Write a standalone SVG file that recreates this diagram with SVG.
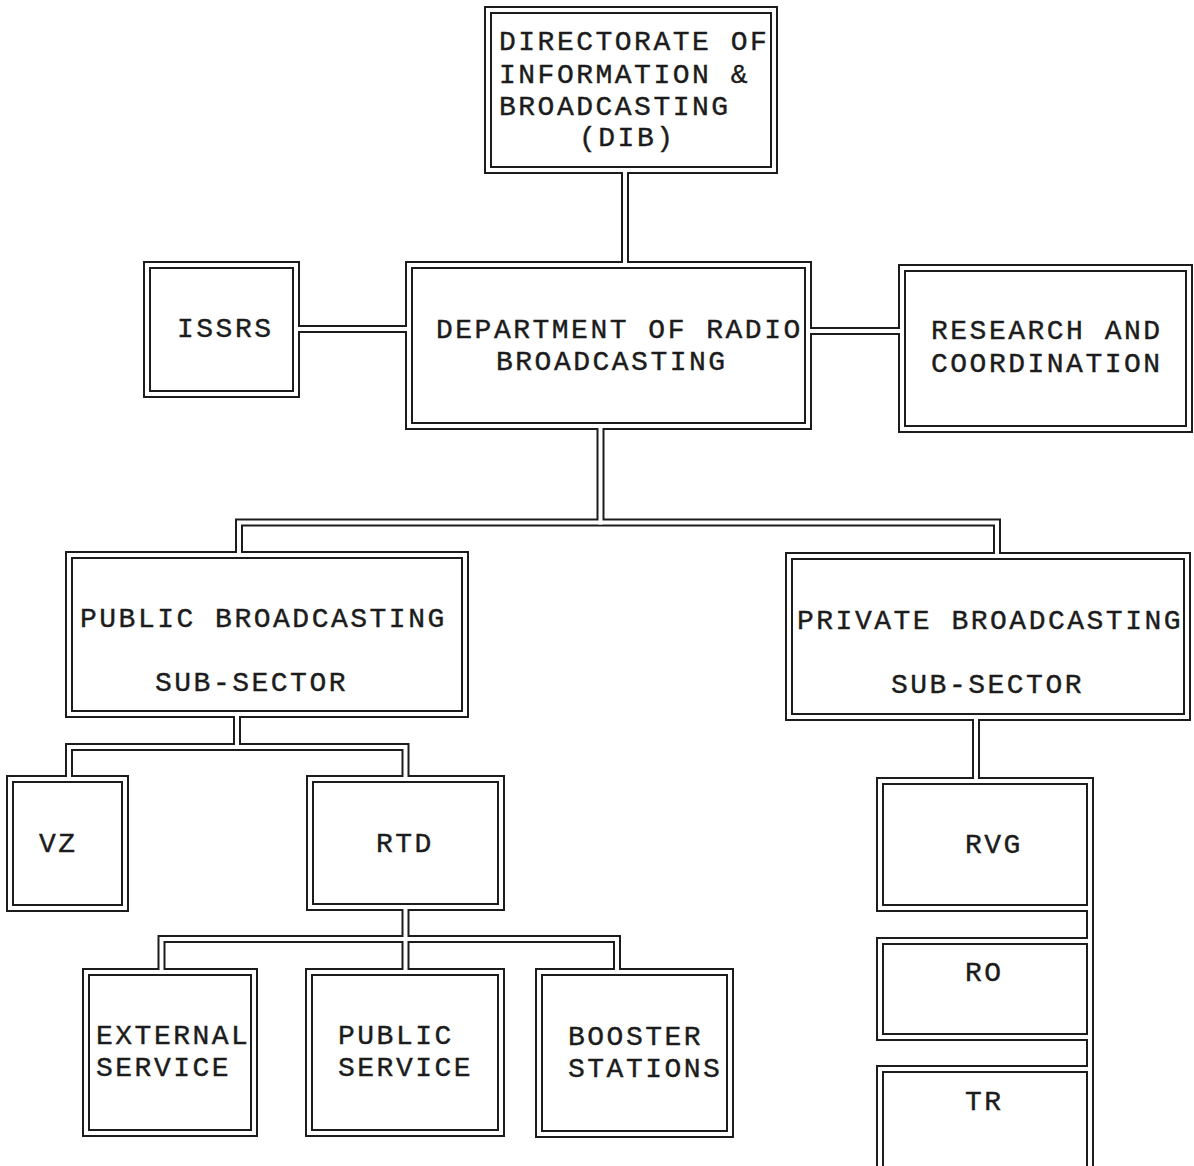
<svg xmlns="http://www.w3.org/2000/svg" xmlns:xlink="http://www.w3.org/1999/xlink" width="1194" height="1166" viewBox="0 0 1194 1166">
  <style>
    .outer { fill: #fff; stroke: #1c1c1c; stroke-width: 2; }
    .inner { fill: none; stroke: #1c1c1c; stroke-width: 2; }
    .label { font-family: "Liberation Mono", "DejaVu Sans Mono", monospace; font-size: 28px; letter-spacing: 2.5px; fill: #1c1c1c; stroke: #1c1c1c; stroke-width: 0.4px; }
    .edge { fill: none; stroke: #1c1c1c; stroke-width: 8; stroke-linejoin: miter; stroke-linecap: butt; }
    .core { fill: none; stroke: #fff; stroke-width: 4; stroke-linejoin: miter; stroke-linecap: square; }
  </style>
  <defs>
    <!-- double-line connector routes (centre lines) -->
    <path id="c-dib" d="M625,173 V262"/>
    <path id="c-issrs" d="M299,329 H406"/>
    <path id="c-research" d="M811,331 H899"/>
    <path id="c-dept-stem" d="M600.5,429 V522.5"/>
    <path id="c-dept-bus" d="M239,552 V522.5 H997 V553"/>
    <path id="c-pub-stem" d="M237,717 V747"/>
    <path id="c-pub-bus" d="M69,776 V747 H405.5 V776"/>
    <path id="c-rtd-stem" d="M405.5,910 V969"/>
    <path id="c-rtd-bus" d="M161.5,969 V939 H617 V969"/>
    <path id="c-priv" d="M976,720 V778"/>
    <path id="c-rvg-ro" d="M1090,911 V938"/>
    <path id="c-ro-tr" d="M1090,1040 V1066"/>
  </defs>

  <rect width="1194" height="1166" fill="#fff"/>

  <g id="dib">
    <rect class="outer" x="485" y="7" width="292" height="166"/>
    <rect class="inner" x="491" y="13" width="280" height="154"/>
    <text class="label" x="499" y="50">DIRECTORATE OF</text>
    <text class="label" x="499" y="83">INFORMATION &amp;</text>
    <text class="label" x="499" y="115">BROADCASTING</text>
    <text class="label" x="579" y="146">(DIB)</text>
  </g>

  <g id="issrs">
    <rect class="outer" x="144" y="262" width="155" height="135"/>
    <rect class="inner" x="150" y="268" width="143" height="123"/>
    <text class="label" x="177" y="337">ISSRS</text>
  </g>

  <g id="dept">
    <rect class="outer" x="406" y="262" width="405" height="167"/>
    <rect class="inner" x="412" y="268" width="393" height="155"/>
    <text class="label" x="436" y="338">DEPARTMENT OF RADIO</text>
    <text class="label" x="496" y="370">BROADCASTING</text>
  </g>

  <g id="research">
    <rect class="outer" x="899" y="265" width="293" height="167"/>
    <rect class="inner" x="905" y="271" width="281" height="155"/>
    <text class="label" x="931" y="339">RESEARCH AND</text>
    <text class="label" x="931" y="372">COORDINATION</text>
  </g>

  <g id="public">
    <rect class="outer" x="66" y="552" width="402" height="165"/>
    <rect class="inner" x="72" y="558" width="390" height="153"/>
    <text class="label" x="80" y="627">PUBLIC BROADCASTING</text>
    <text class="label" x="155" y="691">SUB-SECTOR</text>
  </g>

  <g id="private">
    <rect class="outer" x="786" y="553" width="404" height="167"/>
    <rect class="inner" x="792" y="559" width="392" height="155"/>
    <text class="label" x="797" y="629">PRIVATE BROADCASTING</text>
    <text class="label" x="891" y="693">SUB-SECTOR</text>
  </g>

  <g id="vz">
    <rect class="outer" x="7" y="776" width="121" height="135"/>
    <rect class="inner" x="13" y="782" width="109" height="123"/>
    <text class="label" x="39" y="852">VZ</text>
  </g>

  <g id="rtd">
    <rect class="outer" x="307" y="776" width="197" height="134"/>
    <rect class="inner" x="313" y="782" width="185" height="122"/>
    <text class="label" x="376" y="852">RTD</text>
  </g>

  <g id="rvg">
    <rect class="outer" x="877" y="778" width="216" height="133"/>
    <rect class="inner" x="883" y="784" width="204" height="121"/>
    <text class="label" x="965" y="853">RVG</text>
  </g>

  <g id="ro">
    <rect class="outer" x="877" y="938" width="216" height="102"/>
    <rect class="inner" x="883" y="944" width="204" height="90"/>
    <text class="label" x="965" y="981">RO</text>
  </g>

  <g id="tr">
    <rect class="outer" x="877" y="1066" width="216" height="110"/>
    <rect class="inner" x="883" y="1072" width="204" height="98"/>
    <text class="label" x="965" y="1110">TR</text>
  </g>

  <g id="external">
    <rect class="outer" x="83" y="969" width="174" height="167"/>
    <rect class="inner" x="89" y="975" width="162" height="155"/>
    <text class="label" x="96" y="1044">EXTERNAL</text>
    <text class="label" x="96" y="1076">SERVICE</text>
  </g>

  <g id="public-service">
    <rect class="outer" x="306" y="969" width="198" height="167"/>
    <rect class="inner" x="312" y="975" width="186" height="155"/>
    <text class="label" x="338" y="1044">PUBLIC</text>
    <text class="label" x="338" y="1076">SERVICE</text>
  </g>

  <g id="booster">
    <rect class="outer" x="536" y="969" width="197" height="168"/>
    <rect class="inner" x="542" y="975" width="185" height="156"/>
    <text class="label" x="568" y="1045">BOOSTER</text>
    <text class="label" x="568" y="1077">STATIONS</text>
  </g>

  <!-- connectors: dark channel first, then the white core that opens it into each box -->
  <g id="connectors">
    <use class="edge" xlink:href="#c-dib"/>
    <use class="edge" xlink:href="#c-issrs"/>
    <use class="edge" xlink:href="#c-research"/>
    <use class="edge" xlink:href="#c-dept-stem"/>
    <use class="edge" xlink:href="#c-dept-bus"/>
    <use class="edge" xlink:href="#c-pub-stem"/>
    <use class="edge" xlink:href="#c-pub-bus"/>
    <use class="edge" xlink:href="#c-rtd-stem"/>
    <use class="edge" xlink:href="#c-rtd-bus"/>
    <use class="edge" xlink:href="#c-priv"/>
    <use class="edge" xlink:href="#c-rvg-ro"/>
    <use class="edge" xlink:href="#c-ro-tr"/>
    <use class="core" xlink:href="#c-dib"/>
    <use class="core" xlink:href="#c-issrs"/>
    <use class="core" xlink:href="#c-research"/>
    <use class="core" xlink:href="#c-dept-stem"/>
    <use class="core" xlink:href="#c-dept-bus"/>
    <use class="core" xlink:href="#c-pub-stem"/>
    <use class="core" xlink:href="#c-pub-bus"/>
    <use class="core" xlink:href="#c-rtd-stem"/>
    <use class="core" xlink:href="#c-rtd-bus"/>
    <use class="core" xlink:href="#c-priv"/>
    <use class="core" xlink:href="#c-rvg-ro"/>
    <use class="core" xlink:href="#c-ro-tr"/>
  </g>
</svg>
